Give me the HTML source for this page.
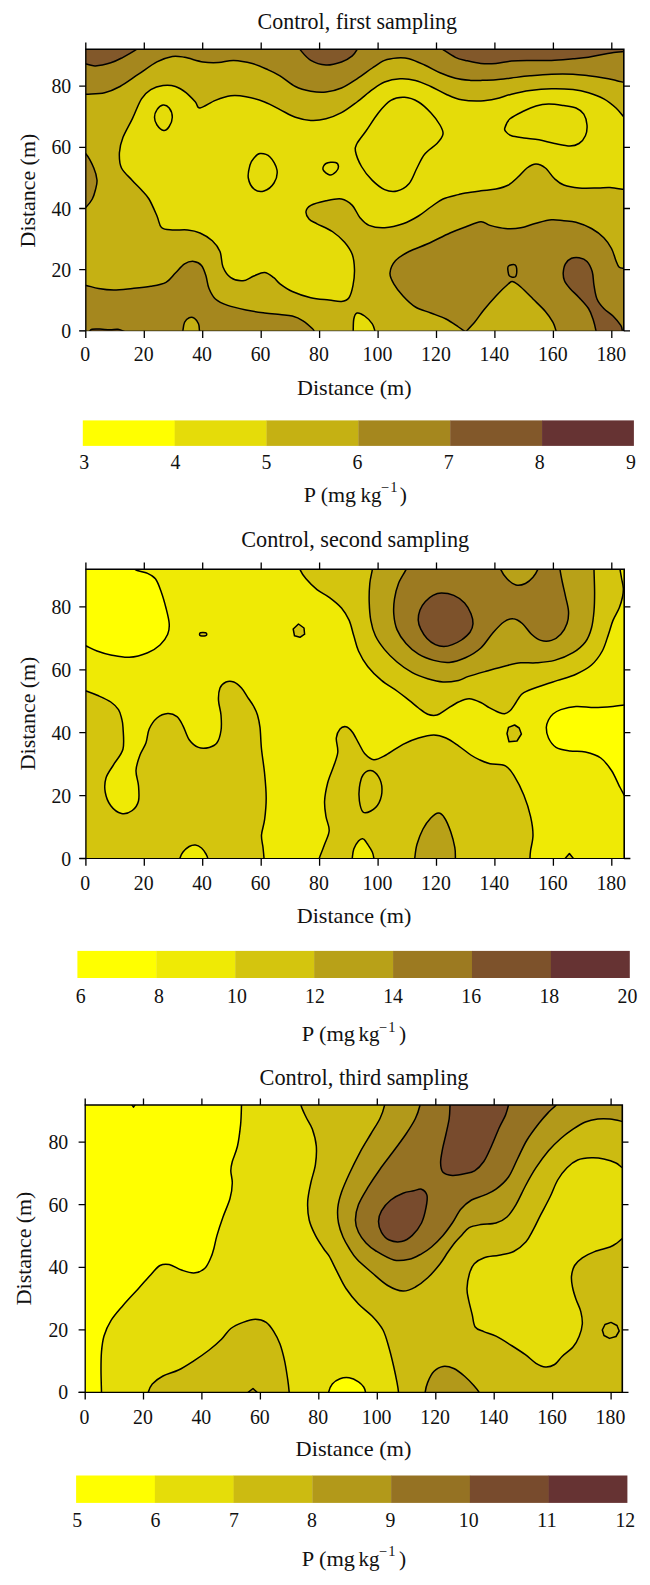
<!DOCTYPE html>
<html><head><meta charset="utf-8"><title>Control sampling</title>
<style>
html,body{margin:0;padding:0;background:#fff}
svg{display:block}
text{font-family:"Liberation Serif",serif;fill:#111}
</style></head><body>
<svg width="650" height="1585" viewBox="0 0 650 1585">
<rect width="650" height="1585" fill="#fff"/>
<clipPath id="c1"><rect x="85.8" y="49.2" width="538.0" height="281.6"/></clipPath>
<rect x="85.8" y="49.2" width="538.0" height="281.6" fill="#c5b113"/>
<g clip-path="url(#c1)" stroke="#000" stroke-width="1.50" stroke-linejoin="round">
<path fill="#a5871e" d="M80.0 95.0C81.0 94.9 82.1 94.6 86.2 94.2C90.3 93.8 99.0 94.0 104.6 92.7C110.2 91.4 114.3 89.6 120.0 86.5C125.7 83.4 132.3 78.3 138.5 74.2C144.7 70.1 151.3 64.9 156.9 61.9C162.5 58.9 167.7 57.2 172.3 56.4C176.9 55.6 179.5 56.4 184.6 57.3C189.7 58.2 197.3 61.0 203.0 61.9C208.7 62.8 213.4 62.8 218.5 62.5C223.6 62.2 228.2 60.2 233.8 60.4C239.4 60.6 246.7 62.0 252.3 63.5C257.9 65.0 263.1 67.5 267.7 69.6C272.3 71.6 275.4 73.0 280.0 75.8C284.6 78.6 290.3 83.9 295.4 86.5C300.5 89.1 305.7 90.3 310.8 91.2C315.9 92.1 320.9 92.5 326.0 92.0C331.1 91.5 336.3 90.2 341.5 88.0C346.7 85.8 351.9 82.1 357.0 78.8C362.1 75.5 367.7 71.1 372.3 68.0C376.9 64.9 380.5 62.1 384.6 60.4C388.7 58.7 392.9 58.3 397.0 58.0C401.1 57.7 404.4 57.6 409.0 58.8C413.6 60.0 419.4 62.7 424.6 65.0C429.8 67.3 434.9 70.5 440.0 72.7C445.1 74.9 450.3 76.9 455.4 78.2C460.5 79.5 466.6 80.0 470.8 80.4C475.0 80.8 476.6 80.5 480.8 80.4C485.0 80.3 490.9 80.2 496.0 79.8C501.1 79.4 505.8 78.7 511.5 78.0C517.2 77.3 523.3 76.4 530.0 75.8C536.7 75.2 544.3 74.5 551.5 74.2C558.7 73.9 566.8 73.9 573.0 74.2C579.2 74.5 583.4 75.2 588.5 75.8C593.6 76.4 599.2 77.2 603.8 78.0C608.4 78.8 612.6 79.7 616.0 80.4C619.4 81.2 621.7 81.9 624.0 82.5C626.3 83.1 629.0 83.8 630.0 84.0L630.0 40.0L80.0 40.0Z"/>
<path fill="#82582a" d="M80.0 64.0C81.0 64.0 83.4 63.8 86.0 64.1C88.6 64.4 91.3 66.1 95.4 65.9C99.5 65.7 106.2 64.2 110.8 62.8C115.4 61.4 118.9 59.4 123.0 57.3C127.1 55.2 132.9 51.8 135.4 50.2C137.9 48.7 137.6 48.4 138.0 48.0L138.0 40.0L80.0 40.0Z"/>
<path fill="#82582a" d="M298.0 46.0C298.3 46.6 297.9 47.2 300.0 49.6C302.1 52.0 306.5 57.8 310.8 60.4C315.1 63.0 320.9 64.7 326.0 65.0C331.1 65.3 337.1 63.5 341.5 62.0C345.9 60.5 349.7 57.9 352.3 55.8C354.9 53.7 356.0 51.2 357.0 49.6C358.0 48.0 358.2 46.6 358.5 46.0L358.0 40.0L298.0 40.0Z"/>
<path fill="#82582a" d="M440.0 47.0C440.5 47.4 440.4 47.9 443.0 49.6C445.6 51.3 451.7 55.5 455.4 57.3C459.1 59.1 461.2 59.4 465.4 60.4C469.6 61.4 475.7 63.0 480.8 63.5C485.9 64.0 490.9 63.9 496.0 63.5C501.1 63.1 505.8 61.5 511.5 61.0C517.2 60.5 523.3 60.5 530.0 60.4C536.7 60.3 544.3 60.7 551.5 60.4C558.7 60.1 566.8 59.3 573.0 58.8C579.2 58.3 583.4 58.1 588.5 57.3C593.6 56.5 599.2 55.0 603.8 54.2C608.4 53.4 612.6 52.7 616.0 52.3C619.4 51.9 621.7 51.8 624.0 51.6C626.3 51.4 629.0 51.3 630.0 51.3L630.0 40.0L440.0 40.0Z"/>
<path fill="#a5871e" d="M80.0 152.0C81.0 152.3 83.7 151.3 86.0 154.0C88.3 156.7 92.0 163.7 93.8 168.0C95.6 172.3 96.7 176.3 97.0 180.0C97.3 183.7 96.2 186.8 95.4 190.0C94.6 193.2 93.8 196.2 92.3 199.0C90.8 201.8 88.2 205.0 86.2 207.0C84.2 209.0 81.0 210.3 80.0 211.0Z"/>
<path fill="#e5dc09" d="M630.0 190.5C629.0 190.3 627.3 190.1 624.0 189.6C620.7 189.1 614.4 187.8 610.0 187.5C605.6 187.2 602.9 187.9 597.7 188.0C592.5 188.1 584.6 188.5 579.0 188.0C573.4 187.5 567.9 186.5 563.8 185.0C559.7 183.5 557.7 181.6 554.6 178.8C551.5 176.0 548.5 170.5 545.4 168.0C542.3 165.5 539.1 164.0 536.0 164.0C532.9 164.0 530.0 165.8 527.0 168.0C524.0 170.2 520.8 174.5 517.7 177.3C514.6 180.1 512.1 183.1 508.5 185.0C504.9 186.9 500.6 188.0 496.0 189.0C491.4 190.0 485.9 190.1 480.8 190.8C475.7 191.5 469.1 192.4 465.4 193.0C461.7 193.6 462.2 193.6 458.5 194.6C454.8 195.6 447.6 196.9 443.0 199.0C438.4 201.1 434.9 204.2 430.8 207.0C426.7 209.8 423.1 213.2 418.5 216.0C413.9 218.8 408.6 221.8 403.0 223.8C397.4 225.8 390.3 227.5 384.6 227.8C378.9 228.1 373.1 227.1 369.0 225.4C364.9 223.7 362.8 221.0 360.0 217.7C357.2 214.4 355.4 208.5 352.3 205.4C349.2 202.3 345.9 199.8 341.5 199.0C337.1 198.2 331.1 199.7 326.0 200.8C320.9 201.9 314.1 203.6 310.8 205.4C307.5 207.2 306.3 209.2 306.0 211.5C305.7 213.8 307.2 216.9 309.0 219.0C310.8 221.1 313.1 221.7 317.0 223.8C320.9 225.9 327.7 228.4 332.3 231.5C336.9 234.6 341.3 238.5 344.6 242.3C347.9 246.2 350.7 250.0 352.3 254.6C353.9 259.2 354.4 264.9 354.5 270.0C354.6 275.1 353.9 280.8 353.0 285.4C352.1 290.0 350.9 295.0 349.0 297.7C347.1 300.4 344.8 301.0 341.5 301.4C338.2 301.8 334.1 300.6 329.0 300.0C323.9 299.4 316.9 299.1 310.8 297.7C304.7 296.3 297.4 293.8 292.3 291.5C287.2 289.2 283.1 286.1 280.0 283.8C276.9 281.5 276.4 279.6 273.8 277.7C271.2 275.8 267.9 272.8 264.6 272.5C261.3 272.2 257.4 274.6 253.8 276.0C250.2 277.4 246.8 280.5 243.0 280.8C239.2 281.1 234.1 280.0 230.8 277.7C227.5 275.4 224.8 271.4 223.0 267.0C221.2 262.6 221.8 255.9 220.0 251.5C218.2 247.1 215.6 243.9 212.3 240.8C209.0 237.7 204.1 234.8 200.0 233.0C195.9 231.2 192.3 230.5 187.7 230.0C183.1 229.5 176.7 230.4 172.3 230.0C167.9 229.6 164.1 229.8 161.5 227.5C158.9 225.2 159.1 220.8 157.0 216.0C154.9 211.2 151.6 203.3 149.0 199.0C146.4 194.7 144.3 193.1 141.5 190.0C138.7 186.9 135.6 184.1 132.3 180.4C129.0 176.7 123.7 172.6 121.5 168.0C119.3 163.4 119.2 157.8 119.4 152.7C119.7 147.6 120.8 143.0 123.0 137.3C125.2 131.7 129.2 125.2 132.3 118.8C135.4 112.4 138.4 103.7 141.5 98.8C144.6 93.9 147.2 91.8 150.8 89.6C154.4 87.4 158.9 86.1 163.0 85.6C167.1 85.1 171.6 85.3 175.4 86.5C179.2 87.7 182.7 90.1 186.0 92.7C189.3 95.3 193.1 99.5 195.4 102.0C197.7 104.5 196.7 108.3 200.0 108.0C203.3 107.7 210.3 102.4 215.4 100.4C220.5 98.4 225.7 96.4 230.8 95.8C235.9 95.2 240.4 95.7 246.0 96.7C251.6 97.7 258.9 99.8 264.6 102.0C270.3 104.2 274.9 107.0 280.0 109.6C285.1 112.1 290.3 115.5 295.4 117.3C300.5 119.1 305.7 120.2 310.8 120.4C315.9 120.7 320.9 120.1 326.0 118.8C331.1 117.5 336.3 115.5 341.5 112.7C346.7 109.9 351.9 105.8 357.0 102.0C362.1 98.2 367.7 92.9 372.3 89.6C376.9 86.3 380.0 83.8 384.6 82.0C389.2 80.2 394.9 79.1 400.0 78.8C405.1 78.5 410.3 79.1 415.4 80.4C420.5 81.7 425.7 84.2 430.8 86.5C435.9 88.8 440.9 92.0 446.0 94.2C451.1 96.4 455.7 98.7 461.5 99.8C467.3 100.9 475.1 101.2 480.8 101.0C486.6 100.8 490.9 99.9 496.0 98.8C501.1 97.7 505.8 95.6 511.5 94.2C517.2 92.8 523.3 91.4 530.0 90.5C536.7 89.6 544.3 88.9 551.5 88.7C558.7 88.5 566.8 88.9 573.0 89.6C579.2 90.3 583.4 91.2 588.5 92.7C593.6 94.2 599.2 96.2 603.8 98.8C608.4 101.3 612.6 104.9 616.0 108.0C619.4 111.1 621.7 114.5 624.0 117.3C626.3 120.1 629.0 123.7 630.0 125.0Z"/>
<path fill="none" d="M163.0 105.0C165.0 104.7 167.6 106.0 169.2 108.0C170.8 110.0 172.3 114.2 172.3 117.3C172.3 120.4 170.6 124.3 169.2 126.5C167.8 128.7 165.7 130.8 163.7 130.5C161.7 130.2 158.5 127.2 157.0 125.0C155.5 122.8 154.5 119.9 154.5 117.3C154.5 114.7 155.6 111.6 157.0 109.6C158.4 107.5 161.0 105.3 163.0 105.0Z"/>
<path fill="none" d="M260.0 153.6C262.7 153.4 267.2 154.3 270.0 157.0C272.8 159.7 276.3 165.7 277.0 170.0C277.7 174.3 276.2 179.5 274.0 183.0C271.8 186.5 267.3 190.0 264.0 191.0C260.7 192.0 256.6 191.2 254.0 189.0C251.4 186.8 249.0 182.0 248.3 178.0C247.6 174.0 249.1 168.3 250.0 165.0C250.9 161.7 252.3 159.9 254.0 158.0C255.7 156.1 257.3 153.8 260.0 153.6Z"/>
<path fill="none" d="M404.6 97.3C409.2 97.6 414.1 99.4 418.5 102.0C422.9 104.6 427.2 108.9 430.8 112.7C434.4 116.5 438.0 121.4 440.0 125.0C442.0 128.6 443.5 131.1 443.0 134.2C442.5 137.3 440.1 140.2 437.0 143.5C433.9 146.8 427.9 150.1 424.6 154.2C421.3 158.3 419.6 163.1 417.0 168.0C414.4 172.9 412.5 179.7 409.2 183.5C405.9 187.3 401.1 190.0 397.0 191.0C392.9 192.0 388.7 191.4 384.6 189.6C380.5 187.8 376.2 184.2 372.3 180.4C368.4 176.6 364.3 171.4 361.5 166.5C358.7 161.6 356.1 154.8 355.4 151.0C354.6 147.2 355.2 146.8 357.0 143.5C358.8 140.2 362.4 136.1 366.0 131.0C369.6 125.9 374.4 117.8 378.5 112.7C382.6 107.6 386.4 103.0 390.8 100.4C395.2 97.8 400.0 97.0 404.6 97.3Z"/>
<path fill="none" d="M323.0 169.6C322.4 167.7 323.9 164.7 326.0 163.5C328.1 162.3 333.3 162.0 335.4 162.5C337.5 163.0 338.4 164.9 338.5 166.5C338.6 168.1 337.4 170.4 336.0 171.8C334.6 173.2 332.0 175.4 329.8 175.0C327.6 174.6 323.6 171.5 323.0 169.6Z"/>
<path fill="none" d="M504.8 128.0C505.5 125.8 506.8 121.6 510.0 118.8C513.2 116.0 519.5 113.1 523.8 111.0C528.1 108.9 531.9 107.2 536.0 106.0C540.1 104.8 543.9 104.1 548.5 104.0C553.1 103.9 559.2 104.9 563.8 105.6C568.4 106.3 572.7 106.6 576.0 108.0C579.3 109.4 582.0 111.4 583.8 114.2C585.6 117.0 586.7 121.4 587.0 125.0C587.3 128.6 586.7 132.7 585.4 135.8C584.1 138.9 581.6 141.8 579.0 143.5C576.4 145.2 574.1 146.0 570.0 146.0C565.9 146.0 559.8 144.5 554.6 143.5C549.4 142.5 544.1 140.7 539.0 139.8C533.9 138.9 528.4 138.7 523.8 138.0C519.2 137.3 514.5 136.8 511.5 135.8C508.5 134.8 507.1 133.1 506.0 131.8C504.9 130.5 504.1 130.2 504.8 128.0Z"/>
<path fill="#a5871e" d="M80.0 285.0C81.0 285.1 83.1 284.8 86.2 285.4C89.3 286.0 93.9 287.7 98.5 288.5C103.1 289.3 108.2 290.0 113.8 290.0C119.4 290.0 126.1 289.1 132.3 288.5C138.5 287.9 145.2 287.3 150.8 286.3C156.4 285.3 161.9 284.5 166.0 282.3C170.1 280.1 172.3 276.1 175.4 273.0C178.5 269.9 181.5 265.7 184.6 263.8C187.7 261.9 191.0 261.1 193.8 261.4C196.6 261.7 199.5 263.0 201.5 265.4C203.5 267.8 204.8 272.1 206.0 276.0C207.2 279.9 207.4 284.7 209.0 288.5C210.6 292.3 212.3 296.2 215.4 299.0C218.5 301.8 222.6 303.6 227.7 305.4C232.8 307.2 239.8 308.7 246.0 310.0C252.2 311.3 258.9 312.2 264.6 313.0C270.3 313.8 275.4 314.1 280.0 314.6C284.6 315.1 288.5 315.0 292.3 316.0C296.1 317.0 299.7 318.7 303.0 320.8C306.3 322.9 310.5 326.8 312.3 328.5C314.1 330.2 313.4 329.9 314.0 330.8C314.6 331.7 315.7 333.5 316.0 334.0L316.0 340.0L80.0 340.0Z"/>
<path fill="#c5b113" d="M182.5 334.0C182.6 333.3 182.7 331.9 183.0 330.0C183.3 328.1 183.6 324.4 184.6 322.3C185.6 320.2 187.5 318.4 189.2 317.7C190.8 317.0 192.9 317.3 194.5 318.3C196.1 319.3 197.7 321.9 198.5 323.8C199.3 325.8 199.2 328.3 199.4 330.0C199.6 331.7 199.7 333.3 199.8 334.0Z"/>
<path fill="#82582a" d="M88.0 333.0C88.7 332.4 90.0 330.0 92.0 329.3C94.0 328.6 97.0 328.9 100.0 329.0C103.0 329.1 107.0 329.8 110.0 329.8C113.0 329.9 115.3 328.9 118.0 329.3C120.7 329.7 124.7 331.6 126.0 332.0Z"/>
<path fill="#e5dc09" d="M353.0 334.0C353.0 333.5 353.1 333.3 353.2 330.8C353.3 328.3 353.2 322.0 353.8 319.0C354.4 316.0 355.2 313.5 357.0 313.0C358.8 312.5 362.1 314.2 364.6 316.0C367.2 317.8 370.6 321.3 372.3 323.8C374.0 326.3 374.3 329.1 374.8 330.8C375.3 332.5 375.4 333.5 375.5 334.0Z"/>
<path fill="#a5871e" d="M630.0 269.0C629.0 268.9 625.8 268.8 624.0 268.5C622.2 268.2 620.3 268.3 619.0 267.0C617.7 265.7 617.2 263.9 616.0 260.8C614.8 257.7 613.5 252.3 611.5 248.5C609.5 244.7 607.1 241.0 603.8 237.7C600.5 234.4 596.1 231.1 591.5 228.5C586.9 225.9 580.6 223.6 576.0 222.3C571.4 221.0 567.9 221.2 563.8 220.8C559.7 220.4 556.1 219.4 551.5 219.8C546.9 220.2 541.1 221.9 536.0 223.2C530.9 224.5 525.9 226.9 520.8 227.8C515.7 228.7 510.5 228.9 505.4 228.5C500.3 228.1 494.1 226.5 490.0 225.4C485.9 224.3 484.9 221.4 480.8 221.7C476.7 222.0 470.5 225.1 465.4 227.0C460.3 228.9 456.3 230.2 450.0 233.0C443.7 235.8 434.5 240.7 427.7 243.8C420.9 246.9 414.4 248.7 409.0 251.5C403.6 254.3 398.6 257.2 395.4 260.8C392.2 264.4 390.3 269.2 390.0 273.0C389.7 276.8 391.6 280.0 393.8 283.8C396.0 287.6 399.4 292.1 403.0 296.0C406.6 299.9 410.8 304.2 415.4 307.0C420.0 309.8 425.7 311.0 430.8 313.0C435.9 315.0 441.4 316.7 446.0 319.0C450.6 321.3 455.2 324.8 458.5 327.0C461.8 329.2 464.3 331.2 465.5 332.0C467.0 330.4 471.6 326.0 474.6 322.3C477.7 318.6 480.2 314.4 483.8 310.0C487.4 305.6 491.9 300.4 496.0 296.0C500.1 291.6 505.7 286.2 508.5 283.8C511.3 281.4 510.9 281.2 513.0 281.7C515.0 282.2 517.5 284.1 520.8 287.0C524.1 289.9 528.9 294.9 533.0 299.0C537.1 303.1 542.1 307.6 545.4 311.5C548.7 315.4 551.2 319.1 553.0 322.3C554.8 325.5 555.3 328.9 556.0 330.8C556.7 332.8 556.8 333.5 557.0 334.0L557 340L630 340Z"/>
<path fill="#82582a" d="M596.0 334.0C596.0 333.5 596.5 333.3 596.0 330.8C595.5 328.3 594.2 322.7 593.0 319.0C591.8 315.3 590.8 312.1 588.5 308.5C586.2 304.9 582.3 301.0 579.2 297.7C576.1 294.4 572.5 291.3 570.0 288.5C567.5 285.7 565.6 283.4 564.5 280.8C563.4 278.2 563.1 275.8 563.2 273.0C563.4 270.2 564.0 266.2 565.4 263.8C566.8 261.4 569.2 259.3 571.5 258.3C573.8 257.3 576.6 257.2 579.2 257.7C581.8 258.2 584.8 259.1 587.0 261.4C589.2 263.7 591.0 267.5 592.2 271.5C593.4 275.5 593.2 280.8 594.0 285.4C594.8 290.0 595.4 295.1 597.0 299.0C598.6 302.9 601.1 305.7 603.8 308.5C606.5 311.3 610.2 313.2 613.0 316.0C615.8 318.8 619.2 322.9 620.8 325.4C622.3 327.9 621.9 329.4 622.3 330.8C622.7 332.2 622.9 333.5 623.0 334.0Z"/>
<path fill="none" d="M508.5 266.0C509.7 265.0 513.6 264.0 515.0 264.8C516.4 265.6 516.8 269.0 516.8 271.0C516.8 273.0 516.2 276.2 515.0 277.0C513.8 277.8 510.7 277.0 509.5 276.0C508.3 275.0 508.2 272.7 508.0 271.0C507.8 269.3 507.3 267.0 508.5 266.0Z"/>
</g>
<clipPath id="c2"><rect x="85.9" y="569.2" width="538.3" height="289.3"/></clipPath>
<rect x="85.9" y="569.2" width="538.3" height="289.3" fill="#efea05"/>
<g clip-path="url(#c2)" stroke="#000" stroke-width="1.50" stroke-linejoin="round">
<path fill="#ffff00" d="M135.4 562.0C135.4 563.3 133.6 567.8 135.4 569.6C137.2 571.4 142.7 571.2 146.0 572.7C149.3 574.2 152.8 575.5 155.4 578.8C158.0 582.1 159.7 587.8 161.5 592.7C163.3 597.6 164.7 602.9 166.0 608.0C167.3 613.1 168.9 619.1 169.2 623.5C169.5 627.9 169.2 630.6 167.7 634.2C166.2 637.8 163.3 641.9 160.0 645.0C156.7 648.1 152.8 650.7 147.7 652.7C142.6 654.8 135.3 656.9 129.2 657.3C123.0 657.7 116.2 656.0 110.8 655.0C105.4 654.0 101.1 652.5 97.0 651.0C92.9 649.5 89.0 647.3 86.2 646.0C83.4 644.7 81.0 643.5 80.0 643.0L80.0 560.0Z"/>
<path fill="#d4c50e" d="M298.0 562.0C298.3 563.3 298.7 566.8 300.0 569.6C301.3 572.4 303.2 575.5 306.0 578.8C308.8 582.1 313.1 586.5 317.0 589.6C320.9 592.7 325.1 594.2 329.2 597.3C333.3 600.4 338.2 604.1 341.5 608.0C344.8 611.9 347.1 615.8 349.2 620.4C351.2 625.0 352.2 630.7 353.8 635.8C355.4 640.9 356.2 645.9 358.5 651.0C360.8 656.1 363.9 661.6 367.7 666.5C371.5 671.4 376.6 676.3 381.5 680.4C386.4 684.5 392.4 687.7 397.0 691.0C401.6 694.3 405.6 697.6 409.2 700.4C412.8 703.2 415.4 705.7 418.5 708.0C421.6 710.3 424.6 713.0 427.7 714.2C430.8 715.4 433.9 715.8 437.0 715.0C440.1 714.2 442.4 711.8 446.0 709.6C449.6 707.4 454.6 703.8 458.5 702.0C462.4 700.2 465.5 698.7 469.2 698.8C472.9 698.9 477.5 701.0 480.8 702.5C484.1 704.0 486.2 706.1 489.2 707.7C492.1 709.3 495.9 711.3 498.5 712.3C501.1 713.3 502.7 714.0 504.6 713.8C506.5 713.5 508.3 712.3 510.0 710.8C511.7 709.3 513.2 706.6 514.6 704.6C516.0 702.6 517.0 700.5 518.5 698.5C520.0 696.5 520.3 694.7 523.8 692.7C527.2 690.7 533.6 688.5 539.2 686.5C544.9 684.5 551.6 682.4 557.7 680.4C563.8 678.4 570.4 676.8 576.0 674.2C581.6 671.6 587.1 668.9 591.5 665.0C595.9 661.1 599.5 656.1 602.3 651.0C605.1 645.9 606.7 639.3 608.5 634.2C610.3 629.1 611.2 624.8 613.0 620.4C614.8 616.0 617.6 611.9 619.2 608.0C620.8 604.1 621.8 600.3 622.5 597.0C623.2 593.7 623.5 591.2 623.3 588.0C623.1 584.8 622.0 581.1 621.5 578.0C621.0 574.9 620.3 571.9 620.0 569.2C619.7 566.5 619.6 563.2 619.5 562.0Z"/>
<path fill="#b8a118" d="M373.0 562.0C372.9 563.3 372.8 566.0 372.3 569.6C371.8 573.2 370.3 578.1 369.8 583.5C369.3 588.9 369.0 595.9 369.2 602.0C369.4 608.1 369.8 614.8 370.8 620.4C371.8 626.0 373.1 630.9 375.4 635.8C377.7 640.7 381.0 645.2 384.6 649.6C388.2 654.0 392.4 658.1 397.0 662.0C401.6 665.9 407.2 669.9 412.3 672.7C417.4 675.5 422.6 677.2 427.7 678.8C432.8 680.3 437.9 681.7 443.0 682.0C448.1 682.3 454.2 681.3 458.5 680.4C462.8 679.5 463.8 678.0 468.5 676.4C473.2 674.8 480.9 672.7 487.0 671.0C493.1 669.3 499.8 667.4 505.4 666.0C511.0 664.6 515.7 663.3 520.8 662.8C525.9 662.3 530.4 663.2 536.0 662.8C541.6 662.4 548.4 662.1 554.6 660.4C560.8 658.7 567.9 655.8 573.0 652.7C578.1 649.6 582.3 646.1 585.4 642.0C588.5 637.9 590.1 633.2 591.5 628.0C592.9 622.8 593.5 616.9 594.0 611.0C594.5 605.1 594.6 599.6 594.6 592.7C594.6 585.8 594.1 574.7 594.0 569.6C593.9 564.5 594.0 563.3 594.0 562.0Z"/>
<path fill="#9c7a21" d="M408.0 562.0C407.7 563.3 407.6 566.0 406.0 569.6C404.4 573.2 400.4 578.6 398.5 583.5C396.6 588.4 395.3 593.7 394.5 598.8C393.7 603.9 393.4 609.1 393.8 614.2C394.2 619.3 395.0 624.7 397.0 629.6C399.0 634.5 402.4 639.4 406.0 643.5C409.6 647.6 413.9 651.4 418.5 654.2C423.1 657.0 428.7 659.0 433.8 660.4C438.9 661.8 443.9 662.8 449.2 662.4C454.5 662.0 460.1 660.2 465.4 657.8C470.7 655.4 476.2 652.2 480.8 648.0C485.4 643.8 489.2 637.0 493.0 632.7C496.8 628.4 500.5 624.3 503.8 622.0C507.1 619.7 509.9 618.5 513.0 618.8C516.1 619.0 519.2 620.9 522.3 623.5C525.4 626.1 528.4 631.4 531.5 634.2C534.6 637.0 537.5 639.4 540.8 640.4C544.1 641.4 548.2 641.4 551.5 640.4C554.8 639.4 558.2 637.0 560.8 634.2C563.4 631.4 565.7 627.4 567.0 623.5C568.3 619.6 568.8 615.6 568.5 611.0C568.2 606.4 566.4 600.6 565.4 595.8C564.4 591.0 563.2 586.4 562.3 582.0C561.4 577.6 560.5 572.9 560.0 569.6C559.5 566.3 559.6 563.3 559.5 562.0Z"/>
<path fill="#b8a118" d="M499.0 562.0C499.3 563.3 499.5 566.8 500.8 569.6C502.1 572.4 504.5 576.2 507.0 578.8C509.5 581.4 512.9 584.2 516.0 585.0C519.1 585.8 522.6 584.8 525.4 583.5C528.2 582.2 531.0 579.6 533.0 577.3C535.0 575.0 536.6 572.1 537.7 569.6C538.8 567.1 539.2 563.3 539.5 562.0Z"/>
<path fill="#7d522b" d="M441.5 593.1C445.0 593.1 449.9 593.8 453.8 595.4C457.7 597.0 461.7 599.9 464.6 603.0C467.5 606.1 469.6 610.3 471.0 613.8C472.4 617.3 473.2 620.7 473.0 623.8C472.8 626.9 471.9 629.6 470.0 632.3C468.1 635.0 464.4 638.0 461.5 640.0C458.6 642.0 455.2 643.5 452.3 644.6C449.4 645.7 446.6 646.5 443.8 646.5C441.0 646.5 438.2 645.9 435.4 644.6C432.6 643.3 429.4 641.1 427.0 638.5C424.6 635.9 422.3 632.3 420.8 629.2C419.3 626.1 418.3 623.2 418.2 620.0C418.1 616.8 418.8 613.1 420.0 610.0C421.2 606.9 423.2 603.9 425.4 601.5C427.6 599.1 430.3 596.8 433.0 595.4C435.7 594.0 438.0 593.1 441.5 593.1Z"/>
<path fill="#d4c50e" d="M298.5 624.0L304.0 628.0L304.6 634.2L300.0 637.3L294.5 635.8L293.2 629.0Z"/>
<path fill="#d4c50e" d="M199.5 634.2C199.5 633.7 199.5 633.0 200.5 632.8C201.5 632.6 204.4 632.6 205.5 632.8C206.6 633.0 206.8 633.7 206.8 634.2C206.8 634.7 206.6 635.5 205.5 635.7C204.4 636.0 201.5 636.0 200.5 635.7C199.5 635.5 199.5 634.7 199.5 634.2Z"/>
<path fill="#d4c50e" d="M80.0 689.0C81.0 689.3 83.1 689.9 86.2 691.0C89.3 692.1 94.4 694.0 98.5 695.8C102.6 697.6 107.5 699.7 110.8 702.0C114.1 704.3 116.7 706.9 118.5 709.6C120.3 712.3 120.8 715.0 121.5 718.0C122.2 721.0 122.8 722.2 123.0 727.4C123.2 732.6 124.5 742.9 123.0 749.0C121.5 755.1 116.6 759.5 113.8 764.3C111.0 769.1 107.4 773.4 106.0 778.0C104.6 782.6 104.4 787.4 105.2 792.0C106.0 796.6 108.1 802.2 110.8 805.8C113.5 809.4 117.9 812.7 121.5 813.5C125.1 814.3 129.5 812.6 132.3 810.5C135.1 808.4 137.5 805.1 138.5 801.0C139.5 796.9 138.9 790.9 138.5 785.8C138.1 780.7 135.8 775.6 136.0 770.5C136.2 765.4 138.3 759.6 140.0 755.0C141.7 750.4 144.5 747.1 146.0 742.8C147.5 738.5 147.4 733.1 149.2 729.0C151.0 724.9 153.9 720.6 157.0 718.0C160.1 715.4 164.4 713.7 167.7 713.5C171.0 713.3 174.4 714.6 177.0 716.6C179.6 718.6 181.0 721.9 183.0 725.8C185.0 729.6 186.6 736.1 189.2 739.7C191.8 743.3 195.2 746.1 198.5 747.4C201.8 748.7 206.1 748.2 209.2 747.4C212.3 746.6 215.0 745.6 217.0 742.8C219.0 740.0 220.3 735.1 221.0 730.5C221.7 725.9 221.4 720.0 221.0 715.0C220.6 710.0 218.7 704.9 218.5 700.4C218.3 695.9 218.8 691.1 220.0 688.0C221.2 684.9 223.7 683.0 226.0 682.0C228.3 681.0 231.2 681.0 233.8 682.0C236.4 683.0 239.2 685.5 241.5 688.0C243.8 690.5 245.6 694.2 247.7 697.3C249.8 700.4 252.2 703.5 253.8 706.5C255.4 709.5 256.5 711.5 257.5 715.0C258.5 718.5 259.3 721.7 260.0 727.4C260.7 733.1 260.7 741.3 261.5 749.0C262.3 756.7 263.8 765.3 264.6 773.5C265.4 781.7 266.2 790.3 266.2 798.0C266.2 805.7 265.4 813.5 264.6 819.7C263.8 825.9 261.8 830.4 261.5 835.0C261.2 839.6 262.6 843.6 263.0 847.4C263.4 851.2 263.8 854.9 264.0 858.0C264.2 861.1 264.2 864.7 264.2 866.0L80.0 866.0Z"/>
<path fill="#efea05" d="M179.5 865.0C179.6 863.8 179.4 860.2 180.0 858.0C180.6 855.8 181.5 853.9 183.0 852.0C184.5 850.1 187.1 847.7 189.2 846.5C191.3 845.3 193.3 844.8 195.4 845.0C197.5 845.2 199.7 846.5 201.5 848.0C203.3 849.5 205.0 852.3 206.0 854.0C207.0 855.7 207.4 856.2 207.7 858.0C208.0 859.8 207.9 863.8 208.0 865.0Z"/>
<path fill="#d4c50e" d="M318.0 866.0C318.2 864.7 318.3 861.6 319.4 858.0C320.5 854.4 323.0 848.9 324.6 844.3C326.2 839.7 329.0 835.1 329.2 830.5C329.4 825.9 326.8 821.5 326.0 816.6C325.2 811.7 324.3 806.6 324.6 801.0C324.9 795.4 326.2 788.7 327.7 782.8C329.2 776.9 332.1 770.9 333.8 765.8C335.5 760.7 337.4 756.6 337.8 752.0C338.2 747.4 335.9 741.8 336.3 738.0C336.7 734.2 338.4 730.9 340.0 729.0C341.6 727.1 343.9 726.3 346.0 726.8C348.1 727.3 350.2 729.3 352.3 732.0C354.4 734.7 356.4 739.2 358.5 742.8C360.6 746.4 362.1 750.7 364.6 753.5C367.2 756.3 370.2 759.5 373.8 759.7C377.4 760.0 381.1 757.6 386.0 755.0C390.9 752.4 397.6 747.1 403.0 744.3C408.4 741.5 413.4 739.5 418.5 738.0C423.6 736.5 429.2 735.0 433.8 735.0C438.4 735.0 441.9 736.2 446.0 738.0C450.1 739.8 454.4 743.0 458.5 745.8C462.6 748.6 467.2 752.6 470.8 755.0C474.4 757.4 476.8 758.5 480.0 760.0C483.2 761.5 485.8 762.7 490.0 763.7C494.2 764.7 501.3 763.6 505.4 765.8C509.5 767.9 511.5 771.7 514.6 776.6C517.7 781.5 521.1 788.3 523.8 795.0C526.5 801.7 529.1 809.9 530.6 816.6C532.1 823.3 533.0 829.4 533.0 835.0C533.0 840.6 531.1 846.7 530.6 850.5C530.1 854.3 530.1 855.4 530.0 858.0C529.9 860.6 530.0 864.7 530.0 866.0Z"/>
<path fill="none" d="M370.8 770.5C373.4 770.8 376.6 773.5 378.5 776.6C380.4 779.7 381.9 784.6 382.0 789.0C382.1 793.4 380.9 799.1 379.0 802.8C377.1 806.5 373.5 809.5 370.8 811.0C368.1 812.5 364.9 813.7 363.0 812.0C361.1 810.3 360.0 805.1 359.4 801.0C358.8 796.9 358.8 791.7 359.4 787.4C360.0 783.1 361.1 777.8 363.0 775.0C364.9 772.2 368.2 770.2 370.8 770.5Z"/>
<path fill="#efea05" d="M352.0 865.0C352.1 863.8 352.0 860.7 352.3 858.0C352.6 855.3 352.8 851.8 353.8 849.0C354.8 846.2 357.0 842.7 358.5 841.0C360.0 839.3 361.5 838.2 363.0 838.8C364.5 839.3 366.1 842.1 367.7 844.3C369.2 846.5 371.3 849.7 372.3 852.0C373.3 854.3 373.5 855.8 373.8 858.0C374.1 860.2 374.0 863.8 374.0 865.0Z"/>
<path fill="#b8a118" d="M414.5 865.0C414.6 863.8 414.4 861.5 414.8 858.0C415.2 854.5 415.6 849.1 417.0 844.3C418.4 839.5 420.7 833.4 423.0 829.0C425.3 824.6 428.2 820.7 430.8 818.0C433.4 815.3 436.2 813.0 438.5 813.0C440.8 813.0 442.6 814.8 444.6 818.0C446.7 821.2 449.1 827.1 450.8 832.0C452.5 836.9 454.0 843.1 454.8 847.4C455.6 851.7 455.3 855.1 455.4 858.0C455.5 860.9 455.5 863.8 455.5 865.0Z"/>
<path fill="#d4c50e" d="M508.5 727.4L514.6 725.0L519.2 728.0L521.4 734.0L517.0 741.0L509.0 741.8L507.0 733.5Z"/>
<path fill="#ffff00" d="M632.0 704.5C630.7 704.6 627.4 704.7 624.2 705.0C621.0 705.3 617.9 706.1 613.0 706.5C608.1 706.9 600.8 707.5 594.6 707.5C588.4 707.5 581.6 706.1 576.0 706.5C570.4 706.9 564.6 708.4 560.8 709.6C557.0 710.9 555.0 712.3 553.0 714.0C551.0 715.7 549.6 717.8 548.5 720.0C547.4 722.2 546.3 724.4 546.3 727.4C546.3 730.4 546.9 734.7 548.5 738.0C550.1 741.3 552.4 745.1 556.0 747.3C559.6 749.5 565.1 750.2 570.0 751.0C574.9 751.8 580.3 750.8 585.4 752.0C590.5 753.2 596.4 754.9 600.8 758.0C605.1 761.1 608.4 765.9 611.5 770.5C614.6 775.1 617.1 781.7 619.2 785.8C621.3 789.9 622.1 791.6 624.2 795.0C626.3 798.4 630.7 804.2 632.0 806.0Z"/>
<path fill="#d4c50e" d="M563.8 860L569.4 853.5L574.6 860Z"/>
</g>
<clipPath id="c3"><rect x="85.2" y="1105.0" width="537.1" height="287.3"/></clipPath>
<rect x="85.2" y="1105.0" width="537.1" height="287.3" fill="#e5dd09"/>
<g clip-path="url(#c3)" stroke="#000" stroke-width="1.50" stroke-linejoin="round">
<path fill="#ffff00" d="M241.5 1097.0C241.5 1098.4 241.7 1100.6 241.5 1105.2C241.3 1109.8 241.3 1117.8 240.6 1124.6C239.9 1131.4 238.9 1139.8 237.5 1146.0C236.1 1152.2 233.4 1157.4 232.3 1161.5C231.2 1165.6 230.8 1167.2 230.8 1170.8C230.8 1174.4 232.4 1178.4 232.3 1183.0C232.2 1187.6 231.6 1192.8 230.0 1198.5C228.4 1204.2 225.2 1210.8 223.0 1217.0C220.8 1223.2 218.5 1230.2 217.0 1235.4C215.5 1240.6 215.0 1244.3 214.0 1248.0C213.0 1251.7 212.4 1254.4 210.8 1257.8C209.2 1261.2 207.4 1266.0 204.6 1268.5C201.8 1271.0 197.7 1272.8 193.8 1273.0C190.0 1273.2 185.6 1271.4 181.5 1270.0C177.4 1268.6 172.8 1265.2 169.2 1264.5C165.6 1263.8 163.1 1263.8 160.0 1265.5C156.9 1267.2 154.4 1270.9 150.8 1274.7C147.2 1278.5 143.1 1283.4 138.5 1288.5C133.9 1293.6 127.6 1300.1 123.0 1305.5C118.4 1310.9 114.0 1315.7 110.8 1320.8C107.6 1325.9 105.5 1330.9 104.0 1336.0C102.5 1341.1 102.0 1345.9 101.5 1351.6C101.0 1357.3 101.0 1363.2 101.0 1370.0C101.0 1376.8 101.4 1387.2 101.5 1392.2C101.6 1397.2 101.5 1398.7 101.5 1400.0L78.0 1400.0L78.0 1097.0Z"/>
<path fill="#ccbb11" d="M301.0 1097.0C301.0 1098.4 300.2 1101.9 301.0 1105.2C301.8 1108.5 304.1 1113.0 306.0 1117.0C307.9 1121.0 310.6 1124.2 312.3 1129.0C314.0 1133.8 315.8 1140.1 316.3 1146.0C316.8 1151.9 316.3 1158.4 315.4 1164.6C314.5 1170.8 312.1 1176.8 310.8 1183.0C309.5 1189.2 308.0 1195.3 307.7 1201.5C307.4 1207.7 307.9 1214.3 309.2 1220.0C310.5 1225.7 313.0 1230.7 315.4 1235.4C317.8 1240.2 321.2 1245.0 323.5 1248.5C325.8 1252.0 326.9 1252.4 329.2 1256.2C331.4 1260.0 334.2 1266.2 337.0 1271.6C339.8 1277.0 342.4 1283.1 346.0 1288.5C349.6 1293.9 354.1 1299.4 358.5 1304.0C362.9 1308.6 368.2 1311.9 372.3 1316.2C376.4 1320.5 380.2 1324.6 383.0 1330.0C385.8 1335.4 387.4 1342.3 389.2 1348.5C391.0 1354.7 392.5 1361.3 393.8 1367.0C395.1 1372.7 396.2 1378.2 397.0 1382.4C397.8 1386.6 398.2 1389.3 398.5 1392.2C398.8 1395.1 398.9 1398.7 399.0 1400.0L632.0 1400.0L632.0 1097.0Z"/>
<path fill="#e5dd09" d="M632.0 1172.0C630.4 1171.3 625.0 1169.2 622.3 1167.7C619.6 1166.2 619.1 1164.5 616.0 1163.0C612.9 1161.5 607.9 1159.9 603.8 1159.0C599.7 1158.1 595.9 1157.6 591.5 1157.8C587.1 1158.0 581.8 1158.3 577.7 1160.0C573.6 1161.7 570.3 1164.4 567.0 1167.7C563.7 1171.0 560.5 1175.1 557.7 1180.0C554.9 1184.9 552.8 1191.2 550.0 1197.0C547.2 1202.8 543.6 1209.2 540.8 1214.6C538.0 1220.0 535.9 1224.9 533.4 1229.4C530.9 1233.9 529.3 1238.0 526.0 1241.7C522.7 1245.4 518.2 1249.2 513.7 1251.5C509.2 1253.8 503.9 1254.2 499.0 1255.2C494.1 1256.2 488.3 1256.3 484.2 1257.7C480.1 1259.1 476.8 1261.1 474.3 1263.8C471.8 1266.5 470.6 1269.6 469.4 1273.7C468.2 1277.8 467.1 1284.2 467.0 1288.5C466.9 1292.8 467.6 1294.9 468.5 1299.3C469.4 1303.7 471.1 1310.1 472.2 1314.7C473.3 1319.3 473.3 1324.2 475.2 1327.0C477.1 1329.8 480.3 1330.1 483.8 1331.6C487.3 1333.1 491.4 1333.9 496.0 1336.2C500.6 1338.5 506.6 1342.4 511.5 1345.5C516.4 1348.6 521.3 1351.7 525.4 1354.7C529.5 1357.7 532.7 1361.2 536.0 1363.3C539.3 1365.3 542.3 1366.8 545.4 1367.0C548.5 1367.2 551.8 1366.3 554.6 1364.5C557.4 1362.7 559.2 1359.1 562.3 1356.2C565.4 1353.3 570.2 1350.3 573.0 1347.0C575.8 1343.7 577.7 1340.0 579.2 1336.2C580.8 1332.4 582.0 1328.1 582.3 1324.0C582.6 1319.9 581.8 1315.7 580.8 1311.6C579.8 1307.5 577.4 1303.4 576.0 1299.3C574.6 1295.2 573.2 1290.8 572.5 1287.0C571.8 1283.2 571.1 1279.8 571.5 1276.2C571.9 1272.6 572.8 1268.6 574.6 1265.5C576.4 1262.4 579.0 1260.1 582.3 1257.8C585.6 1255.5 590.0 1253.4 594.6 1251.6C599.2 1249.8 606.3 1248.4 610.0 1247.0C613.7 1245.6 615.0 1244.4 617.0 1243.0C619.0 1241.6 619.8 1240.5 622.3 1238.5C624.8 1236.5 630.4 1232.2 632.0 1231.0Z"/>
<path fill="#b2991a" d="M385.0 1097.0C384.9 1098.4 385.4 1101.6 384.6 1105.2C383.8 1108.8 382.3 1113.7 380.0 1118.5C377.7 1123.3 374.1 1128.4 370.8 1134.0C367.5 1139.6 363.6 1145.6 360.0 1152.3C356.4 1159.0 352.3 1167.3 349.2 1174.0C346.1 1180.7 343.4 1186.7 341.5 1192.3C339.6 1197.9 338.3 1202.6 337.8 1207.7C337.3 1212.8 337.6 1218.1 338.5 1223.0C339.4 1227.9 341.2 1232.8 343.0 1237.0C344.8 1241.2 346.7 1244.3 349.0 1248.0C351.3 1251.7 353.1 1255.1 357.0 1259.3C360.9 1263.5 367.2 1268.6 372.3 1273.0C377.4 1277.4 382.6 1282.5 387.7 1285.5C392.8 1288.5 398.4 1290.8 403.0 1291.0C407.6 1291.2 411.3 1289.2 415.4 1287.0C419.5 1284.8 423.6 1281.6 427.7 1277.8C431.8 1274.0 436.6 1268.3 440.0 1264.0C443.4 1259.7 445.4 1255.7 448.0 1252.0C450.6 1248.3 453.1 1244.8 455.4 1242.0C457.6 1239.2 459.2 1237.8 461.5 1235.4C463.8 1233.0 466.0 1229.5 469.2 1227.7C472.4 1225.9 476.3 1225.4 480.8 1224.6C485.3 1223.8 491.6 1224.3 496.0 1223.0C500.4 1221.7 503.7 1220.1 507.0 1217.0C510.3 1213.9 512.9 1209.8 516.0 1204.6C519.1 1199.4 522.1 1192.2 525.4 1186.0C528.7 1179.8 532.1 1173.6 536.0 1167.7C539.9 1161.8 544.4 1155.7 548.5 1150.8C552.6 1145.9 556.7 1142.1 560.8 1138.5C564.9 1134.9 568.9 1132.0 573.0 1129.2C577.1 1126.5 581.3 1123.7 585.4 1122.0C589.5 1120.3 593.6 1119.5 597.7 1119.0C601.8 1118.5 605.9 1118.6 610.0 1119.0C614.1 1119.4 618.6 1120.6 622.3 1121.5C626.0 1122.4 630.4 1124.0 632.0 1124.5L632.0 1097.0Z"/>
<path fill="#957223" d="M421.0 1097.0C420.8 1098.4 420.9 1101.6 420.0 1105.2C419.1 1108.8 417.7 1113.7 415.4 1118.5C413.1 1123.3 409.6 1128.6 406.0 1134.0C402.4 1139.4 398.1 1144.9 393.8 1150.8C389.5 1156.7 384.4 1163.0 380.0 1169.2C375.6 1175.4 371.3 1181.8 367.7 1187.7C364.1 1193.6 360.6 1199.2 358.5 1204.6C356.4 1210.0 355.4 1215.4 355.4 1220.0C355.4 1224.6 356.7 1228.5 358.5 1232.3C360.3 1236.1 363.1 1239.9 366.0 1243.0C368.9 1246.1 371.4 1248.2 376.0 1251.0C380.6 1253.8 388.3 1258.6 393.8 1260.0C399.3 1261.4 404.6 1260.3 409.2 1259.3C413.8 1258.3 417.8 1255.8 421.5 1253.8C425.2 1251.8 427.9 1250.1 431.5 1247.0C435.1 1243.9 439.5 1239.4 443.0 1235.4C446.5 1231.4 449.3 1227.4 452.3 1223.0C455.3 1218.6 457.8 1212.8 461.0 1209.0C464.2 1205.2 467.7 1202.3 471.5 1200.0C475.3 1197.7 479.7 1197.2 483.8 1195.4C487.9 1193.6 491.9 1192.3 496.0 1189.2C500.1 1186.1 504.9 1182.1 508.5 1177.0C512.1 1171.9 514.6 1164.7 517.7 1158.5C520.8 1152.3 523.4 1145.9 527.0 1140.0C530.6 1134.1 535.6 1127.6 539.2 1123.0C542.8 1118.4 545.7 1115.3 548.5 1112.3C551.3 1109.3 553.6 1107.8 556.0 1105.2C558.4 1102.7 561.8 1098.4 563.0 1097.0Z"/>
<path fill="#784b2d" d="M450.5 1097.0C450.4 1098.4 450.2 1101.6 450.0 1105.2C449.8 1108.8 449.9 1113.7 449.2 1118.5C448.5 1123.3 447.1 1128.9 446.0 1134.0C444.9 1139.1 443.4 1144.4 442.5 1149.2C441.6 1154.0 440.5 1159.2 440.6 1163.0C440.7 1166.8 441.1 1170.2 443.0 1172.3C444.9 1174.4 448.7 1175.2 452.3 1175.4C455.9 1175.7 460.9 1174.6 464.6 1173.8C468.3 1173.0 471.4 1172.8 474.6 1170.8C477.8 1168.8 481.0 1165.6 483.8 1161.5C486.6 1157.4 488.9 1151.6 491.5 1146.0C494.1 1140.4 496.9 1132.8 499.2 1127.7C501.5 1122.6 503.8 1119.2 505.4 1115.4C506.9 1111.7 507.6 1108.3 508.5 1105.2C509.4 1102.1 510.6 1098.4 511.0 1097.0Z"/>
<path fill="#784b2d" d="M421.5 1189.2C423.7 1190.0 426.2 1192.3 427.0 1195.4C427.8 1198.5 426.9 1203.1 426.0 1207.7C425.1 1212.3 423.8 1218.4 421.5 1223.0C419.2 1227.6 415.6 1232.3 412.3 1235.4C409.0 1238.5 405.4 1240.7 401.5 1241.5C397.6 1242.3 392.5 1241.5 389.2 1240.0C385.9 1238.5 383.3 1235.4 381.5 1232.3C379.7 1229.2 378.5 1225.1 378.5 1221.5C378.5 1217.9 379.4 1214.4 381.5 1210.8C383.6 1207.2 387.2 1202.9 390.8 1200.0C394.4 1197.1 399.2 1194.7 403.0 1193.2C406.8 1191.7 410.7 1191.5 413.8 1190.8C416.9 1190.1 419.3 1188.4 421.5 1189.2Z"/>
<path fill="#ccbb11" d="M147.5 1400.0C147.6 1398.7 147.5 1394.9 148.3 1392.2C149.1 1389.5 149.9 1386.7 152.3 1384.0C154.8 1381.3 158.6 1378.3 163.0 1376.0C167.4 1373.7 173.4 1372.5 178.5 1370.0C183.6 1367.5 188.7 1364.1 193.8 1360.8C198.9 1357.5 204.6 1353.6 209.2 1350.0C213.8 1346.4 217.9 1342.9 221.5 1339.3C225.1 1335.7 227.2 1331.3 230.8 1328.5C234.4 1325.7 238.9 1323.9 243.0 1322.4C247.1 1320.9 251.5 1319.3 255.4 1319.3C259.3 1319.3 263.1 1320.4 266.2 1322.4C269.3 1324.5 271.5 1328.0 273.8 1331.6C276.1 1335.2 278.2 1339.1 280.0 1344.0C281.8 1348.9 283.3 1354.9 284.6 1360.8C285.9 1366.7 286.9 1374.1 287.7 1379.3C288.5 1384.5 288.9 1388.8 289.2 1392.2C289.5 1395.7 289.4 1398.7 289.5 1400.0Z"/>
<path fill="#b2991a" d="M246 1394L253 1388.5L259 1394Z"/>
<path fill="#ffff00" d="M328.0 1400.0C328.1 1398.7 327.9 1394.9 328.6 1392.2C329.3 1389.5 330.4 1386.2 332.3 1384.0C334.2 1381.8 337.2 1379.7 340.0 1378.7C342.8 1377.7 346.1 1377.3 349.2 1377.8C352.3 1378.3 356.1 1380.3 358.5 1381.8C360.9 1383.3 362.5 1385.3 363.7 1387.0C364.9 1388.7 365.1 1390.0 365.5 1392.2C365.9 1394.4 365.9 1398.7 366.0 1400.0Z"/>
<path fill="#b2991a" d="M425.0 1400.0C425.0 1398.7 424.8 1395.1 425.2 1392.2C425.6 1389.3 426.3 1385.8 427.7 1382.4C429.1 1379.0 431.2 1374.3 433.8 1371.6C436.4 1368.9 439.7 1366.9 443.0 1366.4C446.3 1365.9 450.2 1366.9 453.8 1368.5C457.4 1370.1 461.3 1373.4 464.6 1376.2C467.9 1379.0 471.4 1382.8 473.8 1385.5C476.2 1388.2 477.6 1389.8 479.0 1392.2C480.4 1394.6 481.5 1398.7 482.0 1400.0Z"/>
<path fill="none" d="M602.3 1330.0L605.0 1324.5L611.0 1322.4L617.0 1325.5L619.2 1331.0L616.0 1336.5L609.5 1338.4L604.0 1335.5Z"/>
<path fill="#e5dd09" d="M131.3 1104L133.5 1107.2L135.7 1104Z"/>
</g>
<g stroke="#000" fill="none" stroke-linecap="butt">
<path stroke-width="1.6" d="M85.3 49.2H623.8V331.1"/>
<path stroke-width="1.35" d="M85.8 42.6V338.0"/>
<path stroke-width="0.6" d="M79.2 330.8H624.6"/>
<path stroke-width="1.3" d="M144.3 42.6V49.2M144.3 330.8V338.0M202.7 42.6V49.2M202.7 330.8V338.0M261.2 42.6V49.2M261.2 330.8V338.0M319.6 42.6V49.2M319.6 330.8V338.0M378.1 42.6V49.2M378.1 330.8V338.0M436.5 42.6V49.2M436.5 330.8V338.0M494.9 42.6V49.2M494.9 330.8V338.0M553.4 42.6V49.2M553.4 330.8V338.0M611.8 42.6V49.2M611.8 330.8V338.0M79.2 330.8H85.8M623.8 330.8H630.0M79.2 269.6H85.8M623.8 269.6H630.0M79.2 208.5H85.8M623.8 208.5H630.0M79.2 147.3H85.8M623.8 147.3H630.0M79.2 86.2H85.8M623.8 86.2H630.0"/>
</g>
<g font-size="20.4">
<text x="80.3" y="361.4" textLength="9.9" lengthAdjust="spacingAndGlyphs">0</text>
<text x="133.8" y="361.4" textLength="19.8" lengthAdjust="spacingAndGlyphs">20</text>
<text x="192.2" y="361.4" textLength="19.8" lengthAdjust="spacingAndGlyphs">40</text>
<text x="250.7" y="361.4" textLength="19.8" lengthAdjust="spacingAndGlyphs">60</text>
<text x="309.1" y="361.4" textLength="19.8" lengthAdjust="spacingAndGlyphs">80</text>
<text x="362.6" y="361.4" textLength="29.7" lengthAdjust="spacingAndGlyphs">100</text>
<text x="421.1" y="361.4" textLength="29.7" lengthAdjust="spacingAndGlyphs">120</text>
<text x="479.5" y="361.4" textLength="29.7" lengthAdjust="spacingAndGlyphs">140</text>
<text x="537.9" y="361.4" textLength="29.7" lengthAdjust="spacingAndGlyphs">160</text>
<text x="596.4" y="361.4" textLength="29.7" lengthAdjust="spacingAndGlyphs">180</text>
<text x="61.3" y="337.8" textLength="9.9" lengthAdjust="spacingAndGlyphs">0</text>
<text x="51.4" y="276.6" textLength="19.8" lengthAdjust="spacingAndGlyphs">20</text>
<text x="51.4" y="215.5" textLength="19.8" lengthAdjust="spacingAndGlyphs">40</text>
<text x="51.4" y="154.3" textLength="19.8" lengthAdjust="spacingAndGlyphs">60</text>
<text x="51.4" y="93.2" textLength="19.8" lengthAdjust="spacingAndGlyphs">80</text>
</g>
<text font-size="22.4" x="257.5" y="29.0" textLength="199.6" lengthAdjust="spacingAndGlyphs">Control, first sampling</text>
<text font-size="21.4" x="297.0" y="394.7" textLength="114.5" lengthAdjust="spacingAndGlyphs">Distance (m)</text>
<text font-size="21.4" transform="translate(35.0 190.6) rotate(-90)" x="-56.8" y="0" textLength="113.6" lengthAdjust="spacingAndGlyphs">Distance (m)</text>
<rect x="82.80" y="420.4" width="92.15" height="25.5" fill="#ffff00"/>
<rect x="174.65" y="420.4" width="92.15" height="25.5" fill="#e5dc09"/>
<rect x="266.50" y="420.4" width="92.15" height="25.5" fill="#c5b113"/>
<rect x="358.35" y="420.4" width="92.15" height="25.5" fill="#a5871e"/>
<rect x="450.20" y="420.4" width="92.15" height="25.5" fill="#82582a"/>
<rect x="542.05" y="420.4" width="91.85" height="25.5" fill="#663333"/>
<g font-size="20.4">
<text x="79.3" y="469.2" textLength="9.9" lengthAdjust="spacingAndGlyphs">3</text>
<text x="170.4" y="469.2" textLength="9.9" lengthAdjust="spacingAndGlyphs">4</text>
<text x="261.5" y="469.2" textLength="9.9" lengthAdjust="spacingAndGlyphs">5</text>
<text x="352.6" y="469.2" textLength="9.9" lengthAdjust="spacingAndGlyphs">6</text>
<text x="443.7" y="469.2" textLength="9.9" lengthAdjust="spacingAndGlyphs">7</text>
<text x="534.8" y="469.2" textLength="9.9" lengthAdjust="spacingAndGlyphs">8</text>
<text x="625.9" y="469.2" textLength="9.9" lengthAdjust="spacingAndGlyphs">9</text>
</g>
<text font-size="21.4" x="303.8" y="501.7" textLength="52.2" lengthAdjust="spacingAndGlyphs">P (mg</text>
<text font-size="21.4" x="360.5" y="501.7" textLength="21.0" lengthAdjust="spacingAndGlyphs">kg</text>
<text font-size="14.5" x="380.8" y="492.1">−</text>
<text font-size="14.5" x="390.2" y="492.1">1</text>
<text font-size="21.4" x="399.7" y="501.7">)</text>
<g stroke="#000" fill="none" stroke-linecap="butt">
<path stroke-width="1.6" d="M85.4 569.2H624.2V858.8"/>
<path stroke-width="1.35" d="M85.9 562.6V865.7"/>
<path stroke-width="1.0" d="M79.3 858.5H625.0"/>
<path stroke-width="1.3" d="M144.3 562.6V569.2M144.3 858.5V865.7M202.7 562.6V569.2M202.7 858.5V865.7M261.2 562.6V569.2M261.2 858.5V865.7M319.6 562.6V569.2M319.6 858.5V865.7M378.1 562.6V569.2M378.1 858.5V865.7M436.5 562.6V569.2M436.5 858.5V865.7M494.9 562.6V569.2M494.9 858.5V865.7M553.4 562.6V569.2M553.4 858.5V865.7M611.8 562.6V569.2M611.8 858.5V865.7M79.3 858.5H85.9M624.2 858.5H630.4M79.3 795.6H85.9M624.2 795.6H630.4M79.3 732.7H85.9M624.2 732.7H630.4M79.3 669.8H85.9M624.2 669.8H630.4M79.3 606.9H85.9M624.2 606.9H630.4"/>
</g>
<g font-size="20.4">
<text x="80.3" y="890.4" textLength="9.9" lengthAdjust="spacingAndGlyphs">0</text>
<text x="133.8" y="890.4" textLength="19.8" lengthAdjust="spacingAndGlyphs">20</text>
<text x="192.2" y="890.4" textLength="19.8" lengthAdjust="spacingAndGlyphs">40</text>
<text x="250.7" y="890.4" textLength="19.8" lengthAdjust="spacingAndGlyphs">60</text>
<text x="309.1" y="890.4" textLength="19.8" lengthAdjust="spacingAndGlyphs">80</text>
<text x="362.6" y="890.4" textLength="29.7" lengthAdjust="spacingAndGlyphs">100</text>
<text x="421.1" y="890.4" textLength="29.7" lengthAdjust="spacingAndGlyphs">120</text>
<text x="479.5" y="890.4" textLength="29.7" lengthAdjust="spacingAndGlyphs">140</text>
<text x="537.9" y="890.4" textLength="29.7" lengthAdjust="spacingAndGlyphs">160</text>
<text x="596.4" y="890.4" textLength="29.7" lengthAdjust="spacingAndGlyphs">180</text>
<text x="61.3" y="865.5" textLength="9.9" lengthAdjust="spacingAndGlyphs">0</text>
<text x="51.4" y="802.6" textLength="19.8" lengthAdjust="spacingAndGlyphs">20</text>
<text x="51.4" y="739.7" textLength="19.8" lengthAdjust="spacingAndGlyphs">40</text>
<text x="51.4" y="676.8" textLength="19.8" lengthAdjust="spacingAndGlyphs">60</text>
<text x="51.4" y="613.9" textLength="19.8" lengthAdjust="spacingAndGlyphs">80</text>
</g>
<text font-size="22.4" x="241.2" y="546.6" textLength="228.0" lengthAdjust="spacingAndGlyphs">Control, second sampling</text>
<text font-size="21.4" x="296.8" y="923.2" textLength="114.6" lengthAdjust="spacingAndGlyphs">Distance (m)</text>
<text font-size="21.4" transform="translate(35.0 713.4) rotate(-90)" x="-56.8" y="0" textLength="113.6" lengthAdjust="spacingAndGlyphs">Distance (m)</text>
<rect x="77.40" y="950.9" width="79.21" height="27.1" fill="#ffff00"/>
<rect x="156.31" y="950.9" width="79.21" height="27.1" fill="#efea05"/>
<rect x="235.23" y="950.9" width="79.21" height="27.1" fill="#d4c50e"/>
<rect x="314.14" y="950.9" width="79.21" height="27.1" fill="#b8a118"/>
<rect x="393.06" y="950.9" width="79.21" height="27.1" fill="#9c7a21"/>
<rect x="471.97" y="950.9" width="79.21" height="27.1" fill="#7d522b"/>
<rect x="550.89" y="950.9" width="78.91" height="27.1" fill="#663333"/>
<g font-size="20.4">
<text x="75.8" y="1003.3" textLength="9.9" lengthAdjust="spacingAndGlyphs">6</text>
<text x="153.9" y="1003.3" textLength="9.9" lengthAdjust="spacingAndGlyphs">8</text>
<text x="227.0" y="1003.3" textLength="19.8" lengthAdjust="spacingAndGlyphs">10</text>
<text x="305.1" y="1003.3" textLength="19.8" lengthAdjust="spacingAndGlyphs">12</text>
<text x="383.2" y="1003.3" textLength="19.8" lengthAdjust="spacingAndGlyphs">14</text>
<text x="461.3" y="1003.3" textLength="19.8" lengthAdjust="spacingAndGlyphs">16</text>
<text x="539.4" y="1003.3" textLength="19.8" lengthAdjust="spacingAndGlyphs">18</text>
<text x="617.5" y="1003.3" textLength="19.8" lengthAdjust="spacingAndGlyphs">20</text>
</g>
<text font-size="21.4" x="301.8" y="1041.2" textLength="53.2" lengthAdjust="spacingAndGlyphs">P (mg</text>
<text font-size="21.4" x="358.5" y="1041.2" textLength="21.0" lengthAdjust="spacingAndGlyphs">kg</text>
<text font-size="14.5" x="378.8" y="1031.6">−</text>
<text font-size="14.5" x="388.2" y="1031.6">1</text>
<text font-size="21.4" x="399.0" y="1041.2">)</text>
<g stroke="#000" fill="none" stroke-linecap="butt">
<path stroke-width="1.6" d="M84.7 1105.0H622.3V1392.6"/>
<path stroke-width="1.35" d="M85.2 1098.4V1399.5"/>
<path stroke-width="1.2" d="M78.6 1392.3H623.1"/>
<path stroke-width="1.3" d="M143.5 1098.4V1105.0M143.5 1392.3V1399.5M201.9 1098.4V1105.0M201.9 1392.3V1399.5M260.4 1098.4V1105.0M260.4 1392.3V1399.5M318.8 1098.4V1105.0M318.8 1392.3V1399.5M377.3 1098.4V1105.0M377.3 1392.3V1399.5M435.8 1098.4V1105.0M435.8 1392.3V1399.5M494.2 1098.4V1105.0M494.2 1392.3V1399.5M552.6 1098.4V1105.0M552.6 1392.3V1399.5M611.1 1098.4V1105.0M611.1 1392.3V1399.5M78.6 1392.3H85.2M622.3 1392.3H628.5M78.6 1329.8H85.2M622.3 1329.8H628.5M78.6 1267.3H85.2M622.3 1267.3H628.5M78.6 1204.7H85.2M622.3 1204.7H628.5M78.6 1142.2H85.2M622.3 1142.2H628.5"/>
</g>
<g font-size="20.4">
<text x="79.5" y="1423.9" textLength="9.9" lengthAdjust="spacingAndGlyphs">0</text>
<text x="133.0" y="1423.9" textLength="19.8" lengthAdjust="spacingAndGlyphs">20</text>
<text x="191.4" y="1423.9" textLength="19.8" lengthAdjust="spacingAndGlyphs">40</text>
<text x="249.9" y="1423.9" textLength="19.8" lengthAdjust="spacingAndGlyphs">60</text>
<text x="308.3" y="1423.9" textLength="19.8" lengthAdjust="spacingAndGlyphs">80</text>
<text x="361.8" y="1423.9" textLength="29.7" lengthAdjust="spacingAndGlyphs">100</text>
<text x="420.3" y="1423.9" textLength="29.7" lengthAdjust="spacingAndGlyphs">120</text>
<text x="478.7" y="1423.9" textLength="29.7" lengthAdjust="spacingAndGlyphs">140</text>
<text x="537.2" y="1423.9" textLength="29.7" lengthAdjust="spacingAndGlyphs">160</text>
<text x="595.6" y="1423.9" textLength="29.7" lengthAdjust="spacingAndGlyphs">180</text>
<text x="58.3" y="1399.3" textLength="9.9" lengthAdjust="spacingAndGlyphs">0</text>
<text x="48.4" y="1336.8" textLength="19.8" lengthAdjust="spacingAndGlyphs">20</text>
<text x="48.4" y="1274.3" textLength="19.8" lengthAdjust="spacingAndGlyphs">40</text>
<text x="48.4" y="1211.7" textLength="19.8" lengthAdjust="spacingAndGlyphs">60</text>
<text x="48.4" y="1149.2" textLength="19.8" lengthAdjust="spacingAndGlyphs">80</text>
</g>
<text font-size="22.4" x="259.5" y="1085.0" textLength="209.0" lengthAdjust="spacingAndGlyphs">Control, third sampling</text>
<text font-size="21.4" x="295.6" y="1456.4" textLength="115.8" lengthAdjust="spacingAndGlyphs">Distance (m)</text>
<text font-size="21.4" transform="translate(31.4 1248.4) rotate(-90)" x="-56.8" y="0" textLength="113.6" lengthAdjust="spacingAndGlyphs">Distance (m)</text>
<rect x="76.10" y="1475.5" width="79.06" height="27.4" fill="#ffff00"/>
<rect x="154.86" y="1475.5" width="79.06" height="27.4" fill="#e5dd09"/>
<rect x="233.61" y="1475.5" width="79.06" height="27.4" fill="#ccbb11"/>
<rect x="312.37" y="1475.5" width="79.06" height="27.4" fill="#b2991a"/>
<rect x="391.13" y="1475.5" width="79.06" height="27.4" fill="#957223"/>
<rect x="469.89" y="1475.5" width="79.06" height="27.4" fill="#784b2d"/>
<rect x="548.64" y="1475.5" width="78.76" height="27.4" fill="#663333"/>
<g font-size="20.4">
<text x="72.2" y="1527.4" textLength="9.9" lengthAdjust="spacingAndGlyphs">5</text>
<text x="150.6" y="1527.4" textLength="9.9" lengthAdjust="spacingAndGlyphs">6</text>
<text x="228.9" y="1527.4" textLength="9.9" lengthAdjust="spacingAndGlyphs">7</text>
<text x="307.1" y="1527.4" textLength="9.9" lengthAdjust="spacingAndGlyphs">8</text>
<text x="385.5" y="1527.4" textLength="9.9" lengthAdjust="spacingAndGlyphs">9</text>
<text x="458.8" y="1527.4" textLength="19.8" lengthAdjust="spacingAndGlyphs">10</text>
<text x="537.1" y="1527.4" textLength="19.8" lengthAdjust="spacingAndGlyphs">11</text>
<text x="615.4" y="1527.4" textLength="19.8" lengthAdjust="spacingAndGlyphs">12</text>
</g>
<text font-size="21.4" x="301.8" y="1566.0" textLength="53.2" lengthAdjust="spacingAndGlyphs">P (mg</text>
<text font-size="21.4" x="358.5" y="1566.0" textLength="21.0" lengthAdjust="spacingAndGlyphs">kg</text>
<text font-size="14.5" x="378.8" y="1556.4">−</text>
<text font-size="14.5" x="388.2" y="1556.4">1</text>
<text font-size="21.4" x="399.0" y="1566.0">)</text>
</svg>
</body></html>
